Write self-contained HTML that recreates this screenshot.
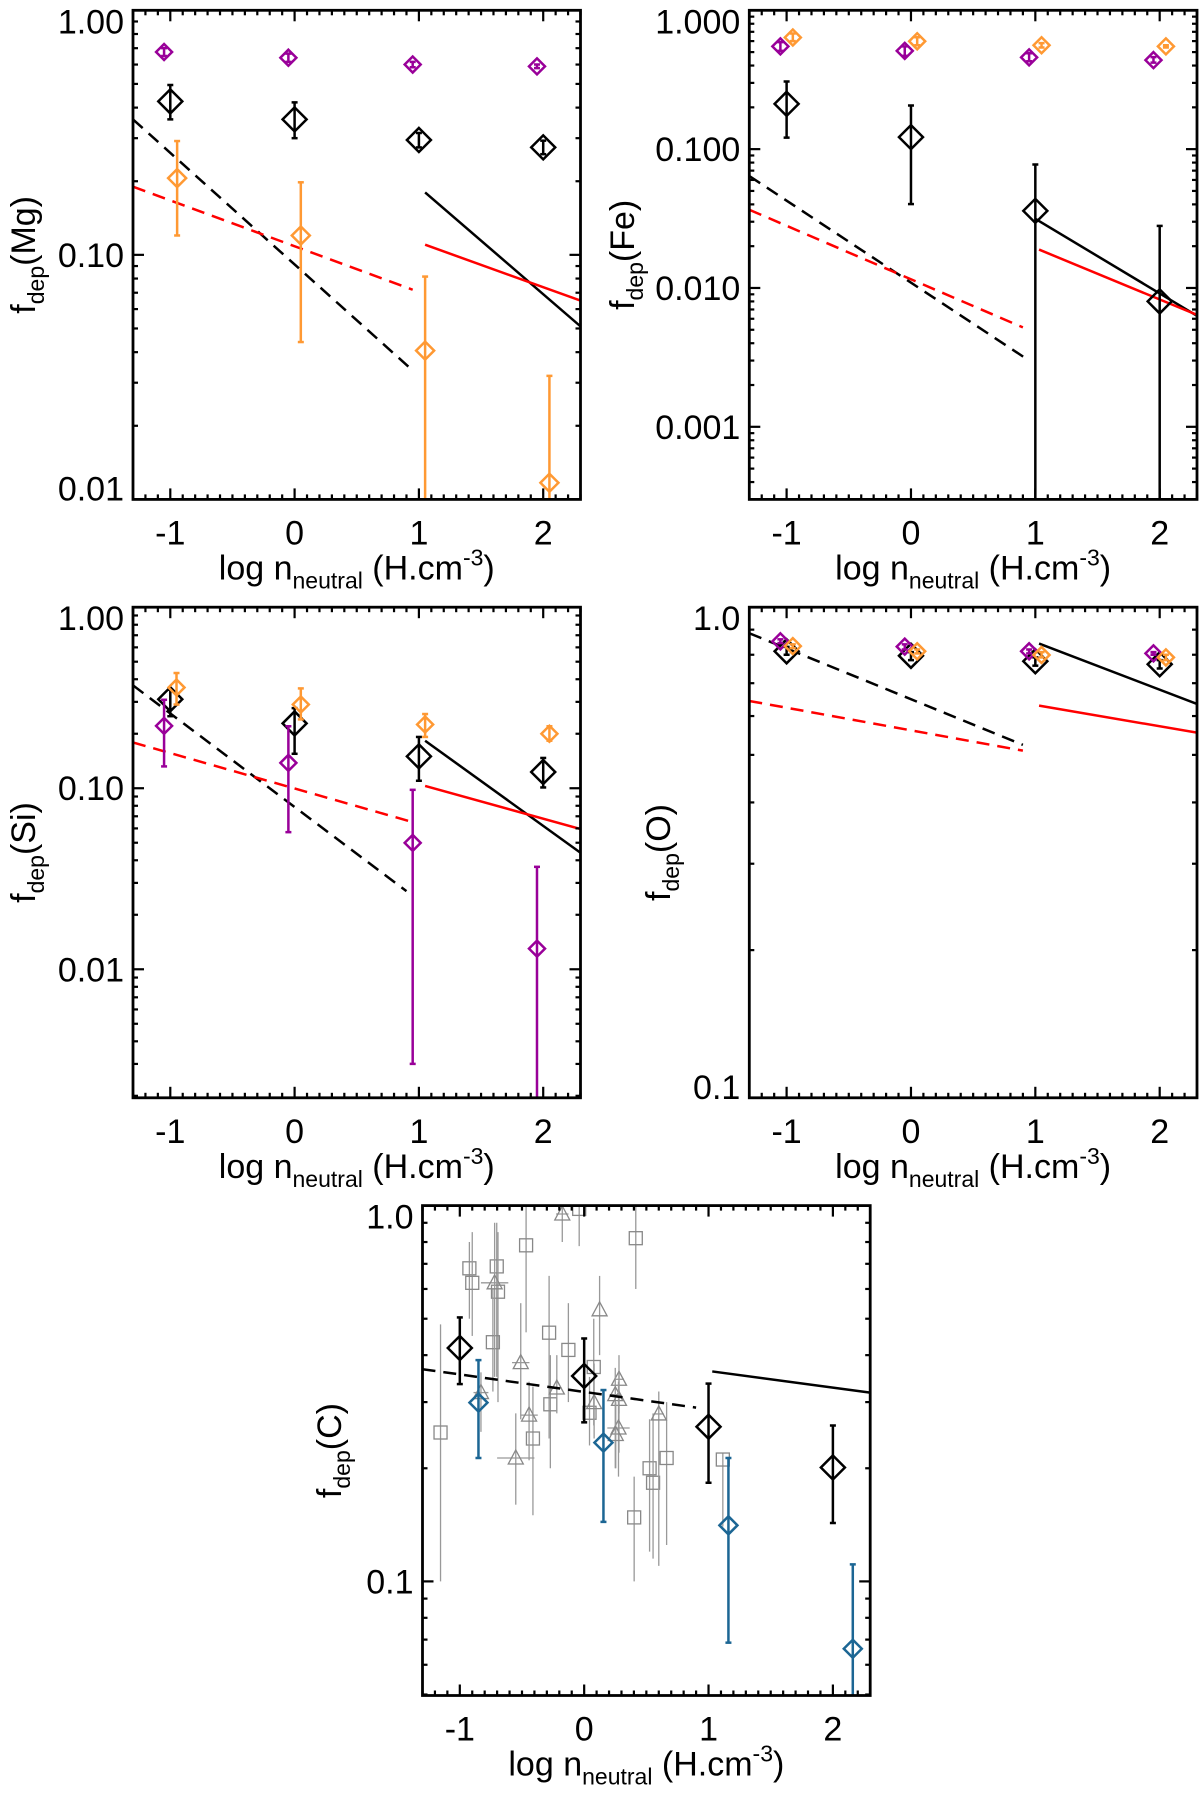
<!DOCTYPE html>
<html><head><meta charset="utf-8"><title>Depletion factors vs density</title>
<style>
html,body{margin:0;padding:0;background:#fff;}
svg{display:block;font-family:"Liberation Sans",Arial,sans-serif;}
</style></head>
<body>
<svg id="fig" width="1200" height="1793" viewBox="0 0 1200 1793" xmlns="http://www.w3.org/2000/svg"></svg>
<script>
// ---- data: [x, y, errLow, errHigh] ----
const xTickLabels = ["-1","0","1","2"];
const xTickValues = [-1,0,1,2];

const mgPurple = [[-1.05,0.675,0.70,0.65],[-0.05,0.64,0.665,0.615],[0.95,0.60,0.615,0.585],[1.95,0.59,0.60,0.58]];
const mgBlack  = [[-1,0.424,0.495,0.358],[0,0.358,0.42,0.30],[1,0.295,0.315,0.275],[2,0.275,0.293,0.258]];
const mgOrange = [[-0.945,0.206,0.292,0.12],[0.05,0.12,0.198,0.044],[1.05,0.0406,0.0815,0.005],[2.05,0.0117,0.032,0.005]];
const mgLines  = [[-1.3,0.358,0.955,0.0335],[-1.3,0.19,0.95,0.072],[1.05,0.18,2.3,0.051],[1.05,0.11,2.3,0.065]];

const fePurple = [[-1.05,0.55,0.59,0.51],[-0.05,0.51,0.55,0.47],[0.95,0.458,0.49,0.43],[1.95,0.438,0.46,0.42]];
const feOrange = [[-0.95,0.637,0.68,0.60],[0.05,0.598,0.64,0.56],[1.05,0.56,0.58,0.54],[2.05,0.55,0.56,0.54]];
const feBlack  = [[-1,0.212,0.307,0.121],[0,0.122,0.206,0.0402],[1,0.0359,0.0775,0.0001],[2,0.008,0.028,0.0001]];
const feLines  = [[-1.3,0.064,0.95,0.0030],[-1.3,0.0366,0.9,0.0052],[1.0,0.0315,2.3,0.0063],[1.03,0.0189,2.3,0.0064]];

const siBlack  = [[-1,0.31,0.35,0.25],[0,0.228,0.277,0.155],[1,0.15,0.192,0.11],[2,0.123,0.147,0.101]];
const siOrange = [[-0.95,0.36,0.433,0.29],[0.05,0.29,0.356,0.24],[1.05,0.225,0.257,0.192],[2.05,0.20,0.22,0.183]];
const siPurple = [[-1.05,0.221,0.308,0.132],[-0.05,0.138,0.22,0.0572],[0.95,0.0499,0.098,0.003],[1.95,0.013,0.0368,0.001]];
const siLines  = [[-1.3,0.37,0.9,0.027],[-1.3,0.179,0.95,0.065],[1.05,0.183,2.3,0.044],[1.05,0.103,2.3,0.0595]];

const oBlack  = [[-1,0.813,0.83,0.80],[0,0.796,0.81,0.78],[1,0.776,0.79,0.76],[2,0.765,0.78,0.75]];
const oPurple = [[-1.05,0.852,0.86,0.845],[-0.05,0.831,0.84,0.82],[0.95,0.813,0.82,0.805],[1.95,0.805,0.81,0.80]];
const oOrange = [[-0.95,0.833,0.84,0.825],[0.05,0.813,0.82,0.805],[1.05,0.799,0.81,0.79],[2.05,0.79,0.80,0.78]];
const oLines  = [[-1.3,0.885,0.9,0.524],[-1.3,0.644,0.9,0.51],[1.03,0.843,2.3,0.635],[1.03,0.63,2.3,0.555]];

const cBlack = [[-1,0.418,0.504,0.335],[0,0.352,0.443,0.265],[1,0.258,0.336,0.183],[2,0.201,0.26,0.143]];
const cBlue  = [[-0.85,0.299,0.388,0.213],[0.155,0.234,0.323,0.144],[1.16,0.141,0.213,0.0687],[2.16,0.0662,0.111,0.04]];
const cLines = [[-1.3,0.367,0.9,0.29],[1.03,0.362,2.3,0.318]];
// grey literature points: [x, y, errUpperVal, errLowerVal, xerr]
const cSquares = [[-1.155,0.249,0.483,0.10,0],[-0.923,0.681,0.80,0.50,0],[-0.90,0.623,0.85,0.45,0],[-0.703,0.689,0.90,0.35,0],
  [-0.693,0.59,0.85,0.30,0],[-0.734,0.433,0.60,0.32,0],[-0.467,0.784,1.0,0.46,0],[-0.282,0.459,0.65,0.24,0],[-0.127,0.413,0.55,0.30,0],
  [0.077,0.372,0.50,0.26,0],[0.043,0.281,0.35,0.23,0],[-0.272,0.296,0.40,0.20,0],[-0.412,0.24,0.33,0.15,0],[-0.04,0.98,1.0,0.78,0],
  [0.415,0.819,1.0,0.60,0],[0.402,0.148,0.19,0.10,0],[0.526,0.20,0.27,0.12,0],[0.554,0.183,0.28,0.115,0],[0.663,0.213,0.30,0.125,0],[1.115,0.211,0.22,0.14,0]];
const cTriangles = [[-0.176,0.95,1.0,0.80,0.05],[-0.72,0.623,0.90,0.35,0.11],[0.124,0.528,0.65,0.40,0],[-0.51,0.382,0.55,0.27,0.07],
  [-0.22,0.327,0.40,0.28,0.04],[0.08,0.299,0.38,0.24,0],[0.28,0.345,0.40,0.28,0.04],[0.25,0.314,0.37,0.20,0.04],[0.28,0.305,0.36,0.22,0],
  [0.276,0.256,0.34,0.19,0.09],[0.254,0.246,0.30,0.20,0],[-0.443,0.277,0.34,0.21,0.07],[-0.55,0.213,0.28,0.16,0.15],[0.60,0.279,0.32,0.11,0.04],[-0.83,0.318,0.36,0.25,0.06]];

// ---- rendering ----
const NS = "http://www.w3.org/2000/svg";
const svg = document.getElementById("fig");
function mk(tag, attrs, parent){
  const e = document.createElementNS(NS, tag);
  for (const k in attrs) e.setAttribute(k, attrs[k]);
  (parent||svg).appendChild(e);
  return e;
}
const PURPLE="#990099", ORANGE="#ff9933", RED="#ff0000", BLUE="#1c6694", GREY="#999999";
const FS = 34, SUB = 23;
let clipId = 0;

function drawPanel(cfg){
  const g = mk("g", {});
  
  
  const L=cfg.L,R=cfg.R,T=cfg.T,B=cfg.B;
  const lmin=Math.log10(cfg.ymin), lmax=Math.log10(cfg.ymax);
  const sx = v => L + (v - (-1.3)) / (3.6) * (R-L);
  const sy = v => T + (lmax - Math.log10(v)) / (lmax-lmin) * (B-T);
  clipId++;
  const cp = mk("clipPath", {id:"clip"+clipId}, g);
  mk("rect", {x:L, y:T, width:R-L, height:B-T}, cp);
  const plot = mk("g", {"clip-path":"url(#clip"+clipId+")"}, g);
  
  

  const tg = mk("g", {stroke:"#000","stroke-width":2.2}, g);
  
  
  for (let i=-13;i<=23;i++){
    const v=i/10, x=sx(v), len=(i%10===0)?11:5;
    mk("line",{x1:x,y1:B,x2:x,y2:B-len},tg);
    mk("line",{x1:x,y1:T,x2:x,y2:T+len},tg);
  }
  for (let d=Math.floor(lmin); d<=Math.ceil(lmax); d++){
    for (let k=1;k<=9;k++){
      const v=k*Math.pow(10,d), lv=Math.log10(v);
      if (lv<lmin-1e-6||lv>lmax+1e-6) continue;
      const y=sy(v), len=(k===1)?11:5;
      mk("line",{x1:L,y1:y,x2:L+len,y2:y},tg);
      mk("line",{x1:R,y1:y,x2:R-len,y2:y},tg);
    }
  }
  cfg.ylabels.forEach(([v,t])=>{
    let y=sy(v); y=Math.max(T+11,Math.min(B-11,y));
    const tx=mk("text",{x:L-9,y:y+12,"text-anchor":"end","font-size":FS},g);
    
    
    tx.textContent=t;
  });
  xTickValues.forEach((v,i)=>{
    const tx=mk("text",{x:sx(v),y:B+45,"text-anchor":"middle","font-size":FS},g);
    
    
    tx.textContent=xTickLabels[i];
  });
  const xt=mk("text",{x:(L+R)/2,y:B+80,"text-anchor":"middle","font-size":FS},g);
  
  
  xt.innerHTML='log n<tspan font-size="'+SUB+'" dy="9">neutral</tspan><tspan dy="-9"> (H.cm</tspan><tspan font-size="'+SUB+'" dy="-14">-3</tspan><tspan dy="14">)</tspan>';
  const cy=(T+B)/2;
  const yt=mk("text",{x:0,y:0,"text-anchor":"middle","font-size":FS,transform:"translate("+(cfg.titleX+12)+","+cy+") rotate(-90)"},g);
  
  
  yt.innerHTML='f<tspan font-size="'+SUB+'" dy="9">dep</tspan><tspan dy="-9">('+cfg.elem+')</tspan>';

  (cfg.grey||[]).forEach(([arr,shape])=>{
    arr.forEach(p=>{
      const x=sx(p[0]), y=sy(p[1]);
      const ge=mk("g",{stroke:GREY,"stroke-width":1.3,fill:"none"},plot);
      
      
      mk("line",{x1:x,y1:sy(p[2]),x2:x,y2:sy(p[3])},ge);
      if (p[4]>0) mk("line",{x1:sx(p[0]-p[4]),y1:y,x2:sx(p[0]+p[4]),y2:y},ge);
      if (shape==="sq") mk("rect",{x:x-6.5,y:y-6.5,width:13,height:13,stroke:"#888"},ge);
      else mk("polygon",{points:(x)+","+(y-8)+" "+(x-7.5)+","+(y+6)+" "+(x+7.5)+","+(y+6),stroke:"#888"},ge);
    });
  });
  cfg.lines.forEach(([ln,color,dashed])=>{
    const l=mk("line",{x1:sx(ln[0]),y1:sy(ln[1]),x2:sx(ln[2]),y2:sy(ln[3]),stroke:color,"stroke-width":2.5},plot);
    if (dashed) l.setAttribute("stroke-dasharray","13 8");
    
    
  });
  cfg.series.forEach(([arr,color,size,sname])=>{
    arr.forEach(p=>{
      const x=sx(p[0]), y=sy(p[1]);
      const ge=mk("g",{stroke:color,"stroke-width":2.5,fill:"none"},plot);
      
      
      const y1=sy(p[2]), y2=sy(p[3]);
      mk("line",{x1:x,y1:y1,x2:x,y2:y2},ge);
      mk("line",{x1:x-3,y1:y1,x2:x+3,y2:y1},ge);
      mk("line",{x1:x-3,y1:y2,x2:x+3,y2:y2},ge);
      mk("polygon",{points:x+","+(y-size)+" "+(x+size)+","+y+" "+x+","+(y+size)+" "+(x-size)+","+y},ge);
    });
  });
  const fr=mk("rect",{x:L,y:T,width:R-L,height:B-T,fill:"none",stroke:"#000","stroke-width":2.8},g);
  
  
}

drawPanel({name:"mg",elem:"Mg",L:133,R:580.5,T:10.3,B:499.4,ymin:0.01,ymax:1,titleX:23,
  ylabels:[[1,"1.00"],[0.1,"0.10"],[0.01,"0.01"]],
  lines:[[mgLines[0],"#000",true],[mgLines[1],RED,true],[mgLines[2],"#000",false],[mgLines[3],RED,false]],
  series:[[mgPurple,PURPLE,8,"mg-purple"],[mgBlack,"#000",12,"mg-black"],[mgOrange,ORANGE,9,"mg-orange"]]});
drawPanel({name:"fe",elem:"Fe",L:749.3,R:1197,T:10.3,B:499.4,ymin:0.0003,ymax:1,titleX:622,
  ylabels:[[1,"1.000"],[0.1,"0.100"],[0.01,"0.010"],[0.001,"0.001"]],
  lines:[[feLines[0],"#000",true],[feLines[1],RED,true],[feLines[2],"#000",false],[feLines[3],RED,false]],
  series:[[fePurple,PURPLE,8,"fe-purple"],[feOrange,ORANGE,8,"fe-orange"],[feBlack,"#000",12,"fe-black"]]});
drawPanel({name:"si",elem:"Si",L:133,R:580.5,T:607.2,B:1097.8,ymin:0.00195,ymax:1,titleX:23,
  ylabels:[[1,"1.00"],[0.1,"0.10"],[0.01,"0.01"]],
  lines:[[siLines[0],"#000",true],[siLines[1],RED,true],[siLines[2],"#000",false],[siLines[3],RED,false]],
  series:[[siBlack,"#000",12,"si-black"],[siOrange,ORANGE,8,"si-orange"],[siPurple,PURPLE,8,"si-purple"]]});
drawPanel({name:"o",elem:"O",L:749.3,R:1197,T:607.2,B:1097.8,ymin:0.1,ymax:1,titleX:658,
  ylabels:[[1,"1.0"],[0.1,"0.1"]],
  lines:[[oLines[0],"#000",true],[oLines[1],RED,true],[oLines[2],"#000",false],[oLines[3],RED,false]],
  series:[[oBlack,"#000",12,"o-black"],[oPurple,PURPLE,8,"o-purple"],[oOrange,ORANGE,8,"o-orange"]]});
drawPanel({name:"c",elem:"C",L:422.5,R:870.2,T:1205.6,B:1695.5,ymin:0.0497,ymax:1,titleX:329,
  ylabels:[[1,"1.0"],[0.1,"0.1"]],
  grey:[[cSquares,"sq"],[cTriangles,"tri"]],
  lines:[[cLines[0],"#000",true],[cLines[1],"#000",false]],
  series:[[cBlack,"#000",12,"c-black"],[cBlue,BLUE,9,"c-blue"]]});
</script>
</body></html>
